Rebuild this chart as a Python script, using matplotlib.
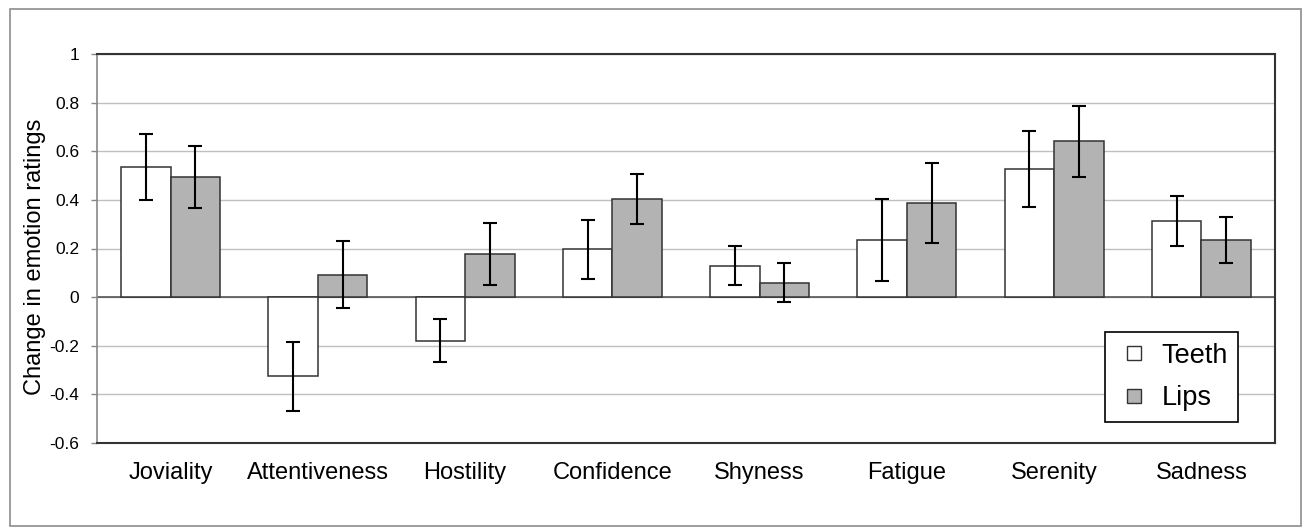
import numpy as np
import matplotlib
matplotlib.use("Agg")
import matplotlib.pyplot as plt
from matplotlib.lines import Line2D
from matplotlib.patches import Rectangle

plt.rcParams['font.family'] = ['Liberation Sans', 'DejaVu Sans']

emotions = ["Joviality", "Attentiveness", "Hostility", "Confidence",
            "Shyness", "Fatigue", "Serenity", "Sadness"]
teeth = [0.535, -0.325, -0.180, 0.196, 0.129, 0.236, 0.528, 0.314]
teeth_err = [0.135, 0.142, 0.088, 0.122, 0.081, 0.169, 0.157, 0.103]
lips = [0.495, 0.092, 0.177, 0.402, 0.060, 0.388, 0.642, 0.235]
lips_err = [0.127, 0.138, 0.126, 0.103, 0.080, 0.164, 0.146, 0.096]
yticks = [-0.6, -0.4, -0.2, 0, 0.2, 0.4, 0.6, 0.8, 1]
ytick_labels = ["-0.6", "-0.4", "-0.2", "0", "0.2", "0.4", "0.6", "0.8", "1"]

W, H = 1302, 527
fig = plt.figure(figsize=(W / 100, H / 100), dpi=100)
ax = fig.add_axes([97 / W, 1 - 443 / H, (1275 - 97) / W, (443 - 54) / H])

x = np.arange(len(emotions))
w = 0.336
edge = "#333333"
ekw = dict(ecolor="black", elinewidth=1.5, capsize=5, capthick=1.5)

ax.bar(x - w / 2, teeth, w, color="white", edgecolor=edge, linewidth=1.1,
       yerr=teeth_err, error_kw=ekw, zorder=3)
ax.bar(x + w / 2, lips, w, color="#b3b3b3", edgecolor=edge, linewidth=1.1,
       yerr=lips_err, error_kw=ekw, zorder=3)

ax.set_xlim(-0.5, len(emotions) - 0.5)
ax.set_ylim(-0.6, 1)
ax.set_yticks(yticks)
ax.set_yticklabels(ytick_labels)
ax.set_xticks(x)
ax.set_xticklabels(emotions)

ax.yaxis.grid(True, color="#c0c0c0", linewidth=1.0, zorder=0)
ax.set_axisbelow(True)
ax.axhline(0, color="#4a4a4a", linewidth=1.1, zorder=2)

ax.tick_params(axis="x", length=0, pad=14, labelsize=17)
ax.tick_params(axis="y", direction="out", length=4.3, width=1.0,
               color="#888888", pad=8.6, labelsize=12.5)

for side in ["top", "right", "bottom"]:
    ax.spines[side].set_color("#333333")
    ax.spines[side].set_linewidth(1.5)
ax.spines["left"].set_color("#888888")
ax.spines["left"].set_linewidth(1.2)

fig.text(35 / W, 1 - 257 / H, "Change in emotion ratings", rotation=90,
         ha="center", va="center", fontsize=17)

handles = [
    Line2D([], [], linestyle="none", marker="s", markersize=10.5,
           markerfacecolor="white", markeredgecolor=edge, markeredgewidth=1.0),
    Line2D([], [], linestyle="none", marker="s", markersize=10.5,
           markerfacecolor="#b3b3b3", markeredgecolor=edge, markeredgewidth=1.0),
]
leg = ax.legend(handles, ["Teeth", "Lips"], loc="lower right",
                bbox_to_anchor=(0.969, 0.055), borderaxespad=0,
                fontsize=19.5, frameon=True, fancybox=False, shadow=False,
                handlelength=1.4, handletextpad=0.33, labelspacing=0.62,
                borderpad=0.38)
leg.get_frame().set_edgecolor("black")
leg.get_frame().set_linewidth(1.2)
leg.get_frame().set_alpha(1)

fig.patches.append(Rectangle((10 / W, 1 / H), (1301 - 10) / W, (526 - 9) / H,
                             transform=fig.transFigure, fill=False,
                             edgecolor="#8c8c8c", linewidth=1.2))

fig.savefig("out.png", dpi=100)
